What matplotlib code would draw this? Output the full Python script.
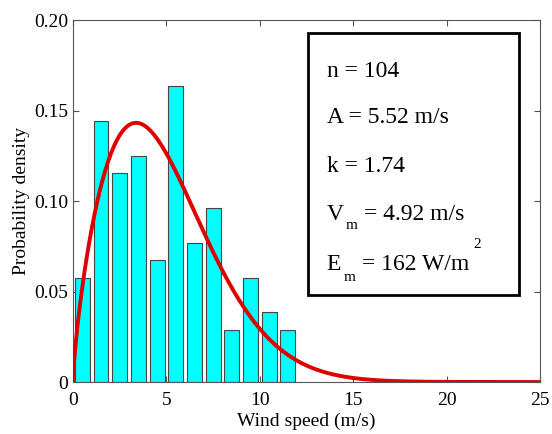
import numpy as np
import matplotlib.pyplot as plt
from matplotlib.patches import Rectangle

# wind speed bins (m/s) and observed counts
bin_centres = [0.5, 1.5, 2.5, 3.5, 4.5, 5.5, 6.5, 7.5, 8.5, 9.5, 10.5, 11.5]
counts = [6, 15, 12, 13, 7, 17, 8, 10, 3, 6, 4, 3]
n = 104

# fitted Weibull parameters shown in the box
A = 5.52
k = 1.74
Vm = 4.92
Em = 162

plt.rcParams['font.family'] = ['Liberation Serif', 'DejaVu Serif']

fig = plt.figure(figsize=(5.52, 4.34), dpi=100)
ax = fig.add_axes([0.1322, 0.1198, 0.846, 0.834])

dens = np.array(counts) / n
ax.bar(bin_centres, dens, width=0.8, color='#00ffff', edgecolor='#444444', linewidth=0.8, zorder=2)

v = np.linspace(0, 25, 500)
pdf = (k / A) * (v / A) ** (k - 1) * np.exp(-(v / A) ** k)
ax.plot(v, pdf, color='#e00000', linewidth=2.8, zorder=3)

ax.set_xlim(0, 25)
ax.set_ylim(0, 0.2)
ax.set_xticks([0, 5, 10, 15, 20, 25])
ax.set_yticks([0, 0.05, 0.10, 0.15, 0.20])
ax.set_yticklabels(['0', '0.05', '0.10', '0.15', '0.20'])
ax.tick_params(direction='in', top=True, right=True, labelsize=14, length=4, color='#555555')
ax.tick_params(axis='x', pad=7)
for s in ax.spines.values():
    s.set_color('#555555')
    s.set_linewidth(0.8)
ax.set_xlabel('Wind speed (m/s)', fontsize=14, labelpad=3)
ax.set_ylabel('Probability density', fontsize=14, labelpad=3)

# info box
fig.patches.append(Rectangle((0.558, 0.320), 0.382, 0.604, transform=fig.transFigure,
                             fill=True, facecolor='white', edgecolor='black', linewidth=2, zorder=5))

fs = 17
x0 = 0.592
fig.text(x0, 0.823, 'n = %d' % n, fontsize=fs, zorder=6)
fig.text(x0, 0.717, 'A = %.2f m/s' % A, fontsize=fs, zorder=6)
fig.text(x0, 0.604, 'k = %.2f' % k, fontsize=fs, zorder=6)

fig.canvas.draw()
r = fig.canvas.get_renderer()


def after(t, dx=0.0):
    bb = t.get_window_extent(renderer=r)
    return bb.x1 / fig.bbox.width + dx


t1 = fig.text(x0, 0.493, 'V', fontsize=fs, zorder=6)
t2 = fig.text(after(t1, 0.004), 0.473, 'm', fontsize=11, zorder=6)
fig.text(after(t2, 0.012), 0.493, '= %.2f m/s' % Vm, fontsize=fs, zorder=6)

t3 = fig.text(x0, 0.378, 'E', fontsize=fs, zorder=6)
t4 = fig.text(after(t3, 0.004), 0.352, 'm', fontsize=11, zorder=6)
t5 = fig.text(after(t4, 0.012), 0.378, '= %d W/m' % Em, fontsize=fs, zorder=6)
fig.text(after(t5, 0.008), 0.428, '2', fontsize=11, zorder=6)

fig.savefig('out.png', dpi=100)
